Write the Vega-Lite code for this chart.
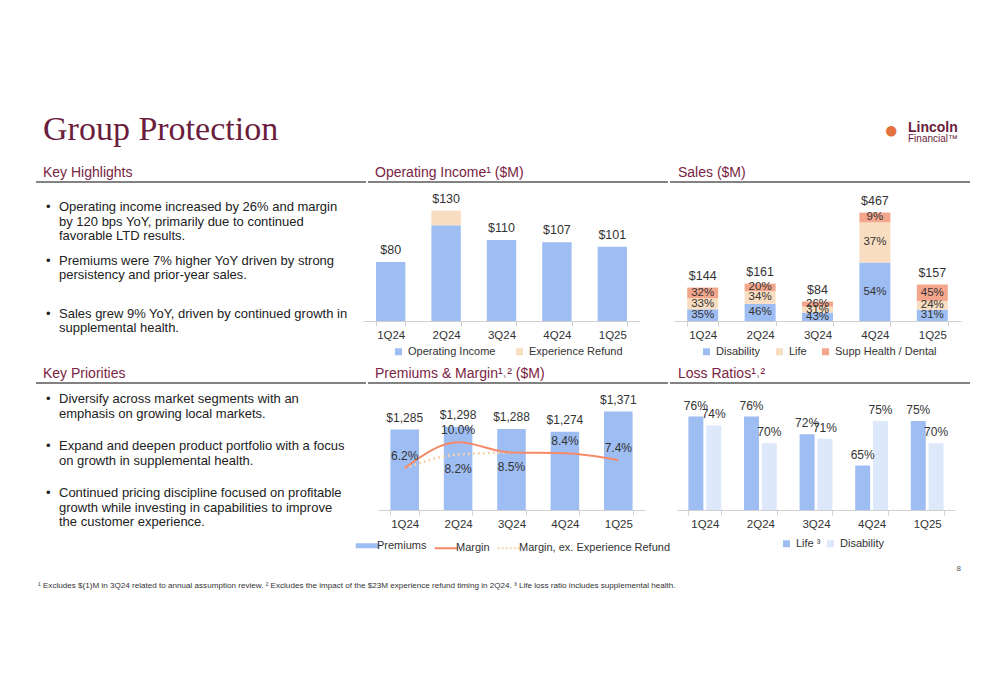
{
  "$schema": "https://vega.github.io/schema/vega-lite/v6.json",
  "background": "white",
  "padding": {"left": 35, "top": 110, "right": 0, "bottom": 0},
  "config": {
    "view": {"stroke": null},
    "font": "Liberation Sans",
    "title": {"font": "Liberation Sans", "fontSize": 14, "fontWeight": "normal", "color": "#7b2342", "anchor": "start", "offset": 2},
    "axis": {"labelFont": "Liberation Sans", "labelFontSize": 11.5, "labelColor": "#333333", "domainColor": "#d0d0d0", "tickColor": "#d0d0d0", "tickSize": 5, "tickBand": "extent", "labelPadding": 3, "grid": false, "labelAngle": 0},
    "legend": {"labelFont": "Liberation Sans", "labelFontSize": 11, "labelColor": "#333333", "symbolSize": 49, "symbolType": "square", "labelOffset": 4, "padding": 0, "symbolStrokeWidth": 0},
    "text": {"font": "Liberation Sans", "fontSize": 12, "color": "#333333"}
  },
  "datasets": {
    "highlights": [
      {"i": 1, "text": ["Operating income increased by 26% and margin", "by 120 bps YoY, primarily due to continued", "favorable LTD results."]},
      {"i": 2, "text": ["Premiums were 7% higher YoY driven by strong", "persistency and prior-year sales."]},
      {"i": 3, "text": ["Sales grew 9% YoY, driven by continued growth in", "supplemental health."]}
    ],
    "priorities": [
      {"i": 1, "text": ["Diversify across market segments with an", "emphasis on growing local markets."]},
      {"i": 2, "text": ["Expand and deepen product portfolio with a focus", "on growth in supplemental health."]},
      {"i": 3, "text": ["Continued pricing discipline focused on profitable", "growth while investing in capabilities to improve", "the customer experience."]}
    ],
    "opincome": [
      {"q": "1Q24", "seg": "Operating Income", "k": 1, "v": 80, "label": "$80"},
      {"q": "2Q24", "seg": "Operating Income", "k": 1, "v": 130, "label": ""},
      {"q": "2Q24", "seg": "Experience Refund", "k": 2, "v": 20, "label": "$130"},
      {"q": "3Q24", "seg": "Operating Income", "k": 1, "v": 110, "label": "$110"},
      {"q": "4Q24", "seg": "Operating Income", "k": 1, "v": 107, "label": "$107"},
      {"q": "1Q25", "seg": "Operating Income", "k": 1, "v": 101, "label": "$101"}
    ],
    "sales": [
      {"q": "1Q24", "seg": "Disability", "k": 1, "amount": 50.4, "pct": "35%", "total": ""},
      {"q": "1Q24", "seg": "Life", "k": 2, "amount": 47.5, "pct": "33%", "total": ""},
      {"q": "1Q24", "seg": "Supp Health / Dental", "k": 3, "amount": 46.1, "pct": "32%", "total": "$144"},
      {"q": "2Q24", "seg": "Disability", "k": 1, "amount": 74.1, "pct": "46%", "total": ""},
      {"q": "2Q24", "seg": "Life", "k": 2, "amount": 54.7, "pct": "34%", "total": ""},
      {"q": "2Q24", "seg": "Supp Health / Dental", "k": 3, "amount": 32.2, "pct": "20%", "total": "$161"},
      {"q": "3Q24", "seg": "Disability", "k": 1, "amount": 36.1, "pct": "43%", "total": ""},
      {"q": "3Q24", "seg": "Life", "k": 2, "amount": 26.0, "pct": "31%", "total": ""},
      {"q": "3Q24", "seg": "Supp Health / Dental", "k": 3, "amount": 21.8, "pct": "26%", "total": "$84"},
      {"q": "4Q24", "seg": "Disability", "k": 1, "amount": 252.2, "pct": "54%", "total": ""},
      {"q": "4Q24", "seg": "Life", "k": 2, "amount": 172.8, "pct": "37%", "total": ""},
      {"q": "4Q24", "seg": "Supp Health / Dental", "k": 3, "amount": 42.0, "pct": "9%", "total": "$467"},
      {"q": "1Q25", "seg": "Disability", "k": 1, "amount": 48.7, "pct": "31%", "total": ""},
      {"q": "1Q25", "seg": "Life", "k": 2, "amount": 37.7, "pct": "24%", "total": ""},
      {"q": "1Q25", "seg": "Supp Health / Dental", "k": 3, "amount": 70.7, "pct": "45%", "total": "$157"}
    ],
    "premiums": [
      {"q": "1Q24", "series": "Premiums", "prem": 1285},
      {"q": "2Q24", "series": "Premiums", "prem": 1298},
      {"q": "3Q24", "series": "Premiums", "prem": 1288},
      {"q": "4Q24", "series": "Premiums", "prem": 1274},
      {"q": "1Q25", "series": "Premiums", "prem": 1371}
    ],
    "margin": [
      {"q": "1Q24", "series": "Margin", "m": 6.2, "label": "6.2%"},
      {"q": "2Q24", "series": "Margin", "m": 10.0, "label": "10.0%"},
      {"q": "3Q24", "series": "Margin", "m": 8.5, "label": ""},
      {"q": "4Q24", "series": "Margin", "m": 8.4, "label": "8.4%"},
      {"q": "1Q25", "series": "Margin", "m": 7.4, "label": "7.4%"},
      {"q": "1Q24", "series": "Margin, ex. Experience Refund", "m": 6.2, "label": ""},
      {"q": "2Q24", "series": "Margin, ex. Experience Refund", "m": 8.2, "label": "8.2%"},
      {"q": "3Q24", "series": "Margin, ex. Experience Refund", "m": 8.5, "label": "8.5%"}
    ],
    "loss": [
      {"q": "1Q24", "s": "Life", "v": 76, "label": "76%"},
      {"q": "1Q24", "s": "Disability", "v": 74, "label": "74%"},
      {"q": "2Q24", "s": "Life", "v": 76, "label": "76%"},
      {"q": "2Q24", "s": "Disability", "v": 70, "label": "70%"},
      {"q": "3Q24", "s": "Life", "v": 72, "label": "72%"},
      {"q": "3Q24", "s": "Disability", "v": 71, "label": "71%"},
      {"q": "4Q24", "s": "Life", "v": 65, "label": "65%"},
      {"q": "4Q24", "s": "Disability", "v": 75, "label": "75%"},
      {"q": "1Q25", "s": "Life", "v": 75, "label": "75%"},
      {"q": "1Q25", "s": "Disability", "v": 70, "label": "70%"}
    ]
  },
  "spacing": 17,
  "resolve": {"scale": {"color": "independent", "xOffset": "independent"}},
  "vconcat": [
    {
      "width": 930,
      "height": 30,
      "layer": [
        {
          "data": {"values": [{"t": "Group Protection"}]},
          "mark": {"type": "text", "align": "left", "baseline": "alphabetic", "font": "Liberation Serif", "fontSize": 34, "color": "#6b1d3d", "dx": 7},
          "encoding": {
            "x": {"datum": 0, "type": "quantitative", "scale": {"domain": [0, 1]}, "axis": null},
            "y": {"datum": 0, "type": "quantitative", "scale": {"domain": [0, 1]}, "axis": null},
            "text": {"field": "t"}
          }
        },
        {
          "data": {"values": [{"t": "●"}]},
          "mark": {"type": "text", "align": "left", "baseline": "middle", "fontSize": 24, "color": "#e4703f", "dx": -82, "dy": -9},
          "encoding": {
            "x": {"datum": 1, "type": "quantitative", "scale": {"domain": [0, 1]}, "axis": null},
            "y": {"datum": 0, "type": "quantitative", "scale": {"domain": [0, 1]}, "axis": null},
            "text": {"field": "t"}
          }
        },
        {
          "data": {"values": [{"t": "Lincoln"}]},
          "mark": {"type": "text", "align": "left", "baseline": "alphabetic", "fontSize": 14, "fontWeight": "bold", "color": "#6b1d3d", "dx": -58, "dy": -8},
          "encoding": {
            "x": {"datum": 1, "type": "quantitative", "scale": {"domain": [0, 1]}, "axis": null},
            "y": {"datum": 0, "type": "quantitative", "scale": {"domain": [0, 1]}, "axis": null},
            "text": {"field": "t"}
          }
        },
        {
          "data": {"values": [{"t": "Financial™"}]},
          "mark": {"type": "text", "align": "left", "baseline": "alphabetic", "fontSize": 10, "color": "#6b1d3d", "dx": -58, "dy": 2},
          "encoding": {
            "x": {"datum": 1, "type": "quantitative", "scale": {"domain": [0, 1]}, "axis": null},
            "y": {"datum": 0, "type": "quantitative", "scale": {"domain": [0, 1]}, "axis": null},
            "text": {"field": "t"}
          }
        }
      ]
    },
    {
      "spacing": 8,
      "resolve": {"scale": {"color": "independent", "xOffset": "independent"}},
      "vconcat": [
        {
          "spacing": 0,
          "hconcat": [
            {"width": 330, "height": 1, "title": {"text": "Key Highlights", "dx": 7}, "view": {"stroke": "#595959", "strokeWidth": 1.5, "strokeDash": [330, 1000]}, "data": {"values": [{}]}, "mark": {"type": "text", "text": "", "fontSize": 1}, "encoding": {}},
            {"width": 300, "height": 1, "title": {"text": "Operating Income¹ ($M)", "dx": 7}, "view": {"stroke": "#595959", "strokeWidth": 1.5, "strokeDash": [300, 1000]}, "data": {"values": [{}]}, "mark": {"type": "text", "text": "", "fontSize": 1}, "encoding": {}},
            {"width": 300, "height": 1, "title": {"text": "Sales ($M)", "dx": 8}, "view": {"stroke": "#595959", "strokeWidth": 1.5, "strokeDash": [300, 1000]}, "data": {"values": [{}]}, "mark": {"type": "text", "text": "", "fontSize": 1}, "encoding": {}}
          ]
        },
        {
          "spacing": 13,
          "resolve": {"scale": {"color": "independent"}},
          "hconcat": [
            {
              "width": 314,
              "height": 121,
              "data": {"name": "highlights"},
              "encoding": {
                "x": {"datum": 0, "type": "quantitative", "scale": {"domain": [0, 1]}, "axis": null},
                "y": {"field": "i", "type": "ordinal", "scale": {"type": "point", "padding": 0.14}, "axis": null}
              },
              "layer": [
                {"mark": {"type": "text", "text": "•", "align": "left", "baseline": "top", "fontSize": 13, "color": "#222222", "dx": 10}},
                {"mark": {"type": "text", "align": "left", "baseline": "top", "fontSize": 13, "lineHeight": 14.5, "color": "#222222", "dx": 23}, "encoding": {"text": {"field": "text"}}}
              ]
            },
            {
              "spacing": 34,
              "resolve": {"scale": {"color": "independent"}},
              "hconcat": [
                {
                  "width": 277,
                  "height": 127,
                  "data": {"name": "opincome"},
                  "encoding": {
                    "x": {"field": "q", "type": "nominal", "title": null, "sort": null, "scale": {"domain": ["1Q24", "2Q24", "3Q24", "4Q24", "1Q25"], "paddingInner": 0.47, "paddingOuter": 0.235}},
                    "y": {"field": "v", "type": "quantitative", "stack": "zero", "scale": {"domain": [0, 172.5]}, "axis": null}
                  },
                  "layer": [
                    {
                      "mark": {"type": "bar"},
                      "encoding": {
                        "color": {"field": "seg", "type": "nominal", "scale": {"domain": ["Operating Income", "Experience Refund"], "range": ["#9ebdf2", "#f9ddc0"]},
                          "legend": {"orient": "none", "direction": "horizontal", "legendX": 30, "legendY": 152, "columnPadding": 18, "title": null}},
                        "order": {"field": "k"}
                      }
                    },
                    {
                      "mark": {"type": "text", "baseline": "bottom", "dy": -5, "fontSize": 12.5},
                      "encoding": {"text": {"field": "label"}, "detail": {"field": "seg"}, "order": {"field": "k"}}
                    }
                  ]
                },
                {
                  "width": 287,
                  "height": 127,
                  "data": {"name": "sales"},
                  "encoding": {
                    "x": {"field": "q", "type": "nominal", "title": null, "sort": null, "scale": {"domain": ["1Q24", "2Q24", "3Q24", "4Q24", "1Q25"], "paddingInner": 0.46, "paddingOuter": 0.23}},
                    "y": {"field": "amount", "type": "quantitative", "stack": "zero", "scale": {"domain": [0, 547]}, "axis": null}
                  },
                  "layer": [
                    {
                      "mark": {"type": "bar"},
                      "encoding": {
                        "color": {"field": "seg", "type": "nominal", "scale": {"domain": ["Disability", "Life", "Supp Health / Dental"], "range": ["#9ebdf2", "#f9ddc0", "#f3a68c"]},
                          "legend": {"orient": "none", "direction": "horizontal", "legendX": 27, "legendY": 152, "columnPadding": 13, "title": null}},
                        "order": {"field": "k"}
                      }
                    },
                    {
                      "mark": {"type": "text", "baseline": "middle", "fontSize": 11.5},
                      "encoding": {
                        "y": {"field": "amount", "type": "quantitative", "stack": "zero", "bandPosition": 0.5, "scale": {"domain": [0, 547]}, "axis": null},
                        "text": {"field": "pct"}, "detail": {"field": "seg"}, "order": {"field": "k"}
                      }
                    },
                    {
                      "mark": {"type": "text", "baseline": "bottom", "dy": -5, "fontSize": 12.5},
                      "encoding": {"text": {"field": "total"}, "detail": {"field": "seg"}, "order": {"field": "k"}}
                    }
                  ]
                }
              ]
            }
          ]
        },
        {
          "spacing": 0,
          "hconcat": [
            {"width": 330, "height": 1, "title": {"text": "Key Priorities", "dx": 7}, "view": {"stroke": "#595959", "strokeWidth": 1.5, "strokeDash": [330, 1000]}, "data": {"values": [{}]}, "mark": {"type": "text", "text": "", "fontSize": 1}, "encoding": {}},
            {"width": 300, "height": 1, "title": {"text": "Premiums & Margin¹˒² ($M)", "dx": 7}, "view": {"stroke": "#595959", "strokeWidth": 1.5, "strokeDash": [300, 1000]}, "data": {"values": [{}]}, "mark": {"type": "text", "text": "", "fontSize": 1}, "encoding": {}},
            {"width": 300, "height": 1, "title": {"text": "Loss Ratios¹˒²", "dx": 8}, "view": {"stroke": "#595959", "strokeWidth": 1.5, "strokeDash": [300, 1000]}, "data": {"values": [{}]}, "mark": {"type": "text", "text": "", "fontSize": 1}, "encoding": {}}
          ]
        },
        {
          "spacing": 17,
          "resolve": {"scale": {"color": "independent", "xOffset": "independent"}},
          "hconcat": [
            {
              "width": 306,
              "height": 94,
              "data": {"name": "priorities"},
              "encoding": {
                "x": {"datum": 0, "type": "quantitative", "scale": {"domain": [0, 1]}, "axis": null},
                "y": {"field": "i", "type": "ordinal", "scale": {"type": "point", "padding": 0}, "axis": null}
              },
              "layer": [
                {"mark": {"type": "text", "text": "•", "align": "left", "baseline": "top", "fontSize": 13, "color": "#222222", "dx": 10}},
                {"mark": {"type": "text", "align": "left", "baseline": "top", "fontSize": 13, "lineHeight": 14.5, "color": "#222222", "dx": 23}, "encoding": {"text": {"field": "text"}}}
              ]
            },
            {
              "spacing": 6,
              "resolve": {"scale": {"color": "independent", "xOffset": "independent"}},
              "hconcat": [
                {
                  "width": 267,
                  "height": 117,
                  "encoding": {
                    "x": {"field": "q", "type": "nominal", "title": null, "sort": null, "scale": {"domain": ["1Q24", "2Q24", "3Q24", "4Q24", "1Q25"], "paddingInner": 0.465, "paddingOuter": 0.2325}}
                  },
                  "resolve": {"scale": {"y": "independent"}},
                  "layer": [
                    {
                      "data": {"name": "premiums"},
                      "mark": {"type": "bar"},
                      "encoding": {
                        "y": {"field": "prem", "type": "quantitative", "scale": {"domain": [900, 1460]}, "axis": null},
                        "y2": {"datum": 900},
                        "color": {"field": "series", "type": "nominal", "scale": {"domain": ["Premiums", "Margin", "Margin, ex. Experience Refund"], "range": ["#9ebdf2", "#f58a68", "#f6d2ae"]},
                          "legend": {"orient": "none", "direction": "horizontal", "legendX": -16, "legendY": 147, "columnPadding": 3, "title": null, "symbolType": "stroke", "symbolSize": 560,
                            "encode": {"symbols": {"update": {
                              "strokeWidth": {"signal": "datum.value === 'Premiums' ? 5 : 2.2"},
                              "strokeDash": {"signal": "datum.value === 'Margin, ex. Experience Refund' ? [2, 2] : [1, 0]"},
                              "stroke": {"signal": "datum.value === 'Premiums' ? '#9ebdf2' : (datum.value === 'Margin' ? '#f58a68' : '#f6d2ae')"}
                            }}}}}
                      }
                    },
                    {
                      "data": {"name": "premiums"},
                      "mark": {"type": "text", "baseline": "bottom", "dy": -5, "fontSize": 12},
                      "encoding": {
                        "y": {"field": "prem", "type": "quantitative", "scale": {"domain": [900, 1460]}, "axis": null},
                        "text": {"field": "prem", "type": "quantitative", "format": "$,.0f"}
                      }
                    },
                    {
                      "data": {"name": "margin"},
                      "transform": [{"filter": "datum.series === 'Margin, ex. Experience Refund'"}],
                      "mark": {"type": "line", "interpolate": "monotone", "strokeWidth": 2.5, "strokeDash": [2, 3]},
                      "encoding": {
                        "y": {"field": "m", "type": "quantitative", "scale": {"domain": [0, 17.3]}, "axis": null},
                        "color": {"field": "series", "type": "nominal"}
                      }
                    },
                    {
                      "data": {"name": "margin"},
                      "transform": [{"filter": "datum.series === 'Margin'"}],
                      "mark": {"type": "line", "interpolate": "monotone", "strokeWidth": 2},
                      "encoding": {
                        "y": {"field": "m", "type": "quantitative", "scale": {"domain": [0, 17.3]}, "axis": null},
                        "color": {"field": "series", "type": "nominal"}
                      }
                    },
                    {
                      "data": {"name": "margin"},
                      "transform": [{"filter": "datum.series === 'Margin'"}],
                      "mark": {"type": "text", "baseline": "middle", "dy": -12, "fontSize": 12},
                      "encoding": {
                        "y": {"field": "m", "type": "quantitative", "scale": {"domain": [0, 17.3]}, "axis": null},
                        "text": {"field": "label"}
                      }
                    },
                    {
                      "data": {"name": "margin"},
                      "transform": [{"filter": "datum.series === 'Margin, ex. Experience Refund'"}],
                      "mark": {"type": "text", "baseline": "middle", "dy": 14, "fontSize": 12},
                      "encoding": {
                        "y": {"field": "m", "type": "quantitative", "scale": {"domain": [0, 17.3]}, "axis": null},
                        "text": {"field": "label"}
                      }
                    }
                  ]
                },
                {
                  "width": 278,
                  "height": 117,
                  "data": {"name": "loss"},
                  "encoding": {
                    "x": {"field": "q", "type": "nominal", "title": null, "sort": null, "scale": {"domain": ["1Q24", "2Q24", "3Q24", "4Q24", "1Q25"], "paddingInner": 0.41, "paddingOuter": 0.205}},
                    "xOffset": {"field": "s", "type": "nominal", "sort": null, "scale": {"domain": ["Life", "Disability"], "paddingInner": 0.16}},
                    "y": {"field": "v", "type": "quantitative", "scale": {"domain": [55, 81.3]}, "axis": null}
                  },
                  "layer": [
                    {
                      "mark": {"type": "bar"},
                      "encoding": {
                        "y2": {"datum": 55},
                        "color": {"field": "s", "type": "nominal", "scale": {"domain": ["Life", "Disability"], "range": ["#9ebdf2", "#dde9fb"]},
                          "legend": {"orient": "none", "direction": "horizontal", "legendX": 104, "legendY": 145, "columnPadding": 4, "title": null, "labelExpr": "datum.label === 'Life' ? 'Life ³' : datum.label"}}
                      }
                    },
                    {
                      "mark": {"type": "text", "baseline": "bottom", "dy": -4, "fontSize": 12},
                      "encoding": {"text": {"field": "label"}}
                    }
                  ]
                }
              ]
            }
          ]
        },
        {
          "width": 930,
          "height": 24,
          "layer": [
            {
              "data": {"values": [{"t": "8"}]},
              "mark": {"type": "text", "align": "right", "baseline": "top", "fontSize": 8, "color": "#555555", "dx": -5, "dy": 1},
              "encoding": {
                "x": {"datum": 1, "type": "quantitative", "scale": {"domain": [0, 1]}, "axis": null},
                "y": {"datum": 1, "type": "quantitative", "scale": {"domain": [0, 1]}, "axis": null},
                "text": {"field": "t"}
              }
            },
            {
              "data": {"values": [{"t": "¹ Excludes $(1)M in 3Q24  related to annual assumption review.  ² Excludes the impact of the $23M experience refund timing in 2Q24. ³ Life loss ratio includes supplemental health."}]},
              "mark": {"type": "text", "align": "left", "baseline": "bottom", "fontSize": 8.1, "color": "#333333", "dx": 2, "dy": 2},
              "encoding": {
                "x": {"datum": 0, "type": "quantitative", "scale": {"domain": [0, 1]}, "axis": null},
                "y": {"datum": 0, "type": "quantitative", "scale": {"domain": [0, 1]}, "axis": null},
                "text": {"field": "t"}
              }
            }
          ]
        }
      ]
    }
  ]
}
